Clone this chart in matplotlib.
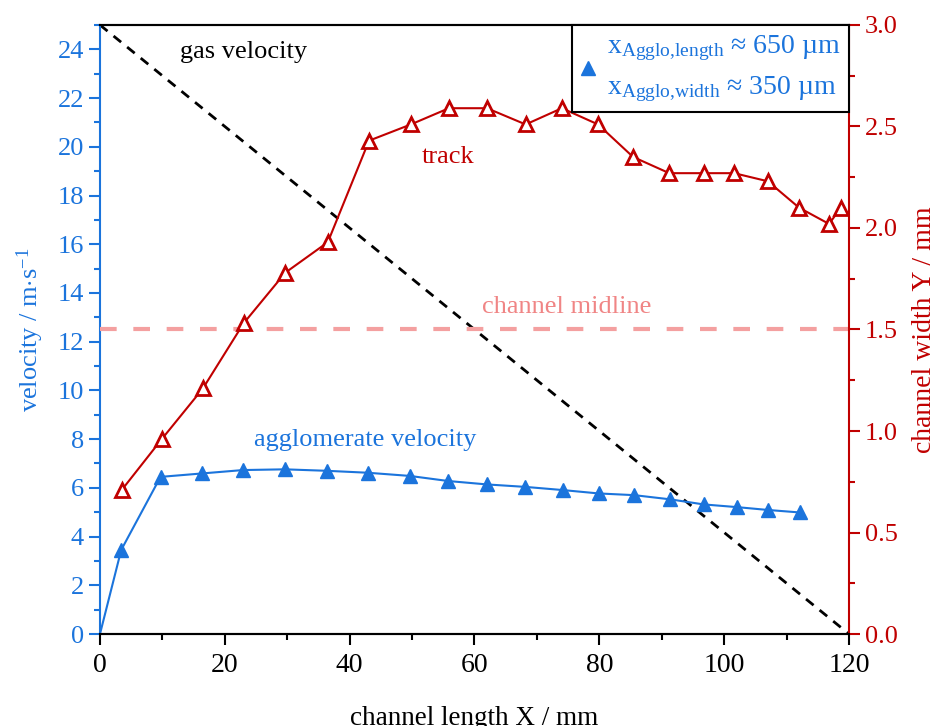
import matplotlib.pyplot as plt
from matplotlib.lines import Line2D
from matplotlib.ticker import MultipleLocator

plt.rcParams['font.family'] = ['Liberation Serif', 'DejaVu Serif']
plt.rcParams['mathtext.fontset'] = 'custom'
plt.rcParams['mathtext.rm'] = 'Liberation Serif'
plt.rcParams['mathtext.it'] = 'Liberation Serif:italic'

blue = '#1b74dc'
red = '#c00000'
pink = '#f4a0a0'

# agglomerate velocity (left axis, m/s)
agglo_x = [0, 3.4, 9.7, 16.3, 22.9, 29.6, 36.3, 42.9, 49.6, 55.8, 62.0, 68.1,
           74.1, 79.9, 85.6, 91.3, 96.7, 102.0, 107.1, 112.1]
agglo_v = [0, 3.45, 6.45, 6.59, 6.73, 6.76, 6.70, 6.62, 6.49, 6.28, 6.14, 6.04,
           5.91, 5.77, 5.70, 5.53, 5.32, 5.21, 5.09, 4.99]

# track (right axis, mm)
track_x = [3.5, 9.9, 16.5, 23.0, 29.7, 36.5, 43.1, 49.8, 55.9, 62.0, 68.2,
           74.0, 79.8, 85.4, 91.2, 96.7, 101.6, 107.0, 112.0, 116.8, 118.7]
track_y = [0.71, 0.96, 1.21, 1.53, 1.78, 1.93, 2.43, 2.51, 2.59, 2.59, 2.51,
           2.59, 2.51, 2.35, 2.27, 2.27, 2.27, 2.23, 2.10, 2.02, 2.10]

# gas velocity and channel midline
gas_x = [0, 120]
gas_v = [25, 0]
midline_y = 1.5

fig = plt.figure(figsize=(9.37, 7.26), dpi=100)
ax = fig.add_axes([0.1067, 0.1267, 0.7994, 0.8389])
ax2 = ax.twinx()

ax.plot(gas_x, gas_v, color='black', lw=2, dashes=(3.5, 2.8), zorder=2)
ax.plot(agglo_x, agglo_v, color=blue, lw=1.5, marker='^', ms=10,
        markevery=range(1, len(agglo_x)), zorder=3)

ax2.plot(gas_x, [midline_y, midline_y], color=pink, lw=3, dashes=(4, 4), zorder=1)
ax2.plot(track_x, track_y, color=red, lw=1.5, marker='^', ms=9.5,
         mfc='white', mec=red, mew=2, zorder=3)

ax.set_xlim(0, 120)
ax.set_ylim(0, 25)
ax2.set_ylim(0, 3)

ax.xaxis.set_major_locator(MultipleLocator(20))
ax.xaxis.set_minor_locator(MultipleLocator(10))
ax.yaxis.set_major_locator(MultipleLocator(2))
ax.yaxis.set_minor_locator(MultipleLocator(1))
ax2.yaxis.set_major_locator(MultipleLocator(0.5))
ax2.yaxis.set_minor_locator(MultipleLocator(0.25))
ax2.yaxis.set_major_formatter(lambda v, p: f'{v:.1f}')

fs = 19
ax.tick_params(axis='x', which='major', length=8, width=1.5, labelsize=20, pad=6)
ax.tick_params(axis='x', which='minor', length=4, width=1.5)
ax.tick_params(axis='y', which='major', length=8, width=1.5, labelsize=fs,
               colors=blue)
ax.tick_params(axis='y', which='minor', length=4, width=1.5, colors=blue)
ax2.tick_params(axis='y', which='major', length=8, width=1.5, labelsize=fs,
                colors=red)
ax2.tick_params(axis='y', which='minor', length=4, width=1.5, colors=red)

for a in (ax, ax2):
    for s in a.spines.values():
        s.set_linewidth(1.5)
ax.spines['left'].set_color(blue)
ax.spines['right'].set_visible(False)
ax2.spines['left'].set_visible(False)
ax2.spines['right'].set_color(red)

ax.set_xlabel('channel length X / mm', fontsize=19.5, labelpad=20)
ax.set_ylabel(r'velocity / m$\cdot$s$^{-1}$', fontsize=fs, color=blue, labelpad=8)
ax2.set_ylabel('channel width Y / mm', fontsize=20, color=red, labelpad=10)

ax.text(12.8, 23.9, 'gas velocity', fontsize=fs, color='black', va='center')
ax.text(42.5, 7.96, 'agglomerate velocity', fontsize=fs, color=blue,
        ha='center', va='center')
ax2.text(55.8, 2.35, 'track', fontsize=fs, color=red, ha='center', va='center')
ax2.text(74.8, 1.61, 'channel midline', fontsize=fs, color='#f08585',
         ha='center', va='center')

handle = Line2D([], [], ls='none', marker='^', color=blue, ms=10)
label = ('$\\mathrm{x_{Agglo{,}length}}$ \u2248 650 \u00b5m\n'
         '$\\mathrm{x_{Agglo{,}width}}$ \u2248 350 \u00b5m')
leg = ax2.legend([handle], [label], loc='upper right', fontsize=20,
                 frameon=True, fancybox=False, edgecolor='black', framealpha=1,
                 borderaxespad=0, handlelength=0.5, handletextpad=0.45,
                 labelcolor=blue, borderpad=0.3)
leg.get_frame().set_linewidth(1.5)
leg.get_texts()[0].set_linespacing(1.55)

fig.savefig('out.png', dpi=100)
